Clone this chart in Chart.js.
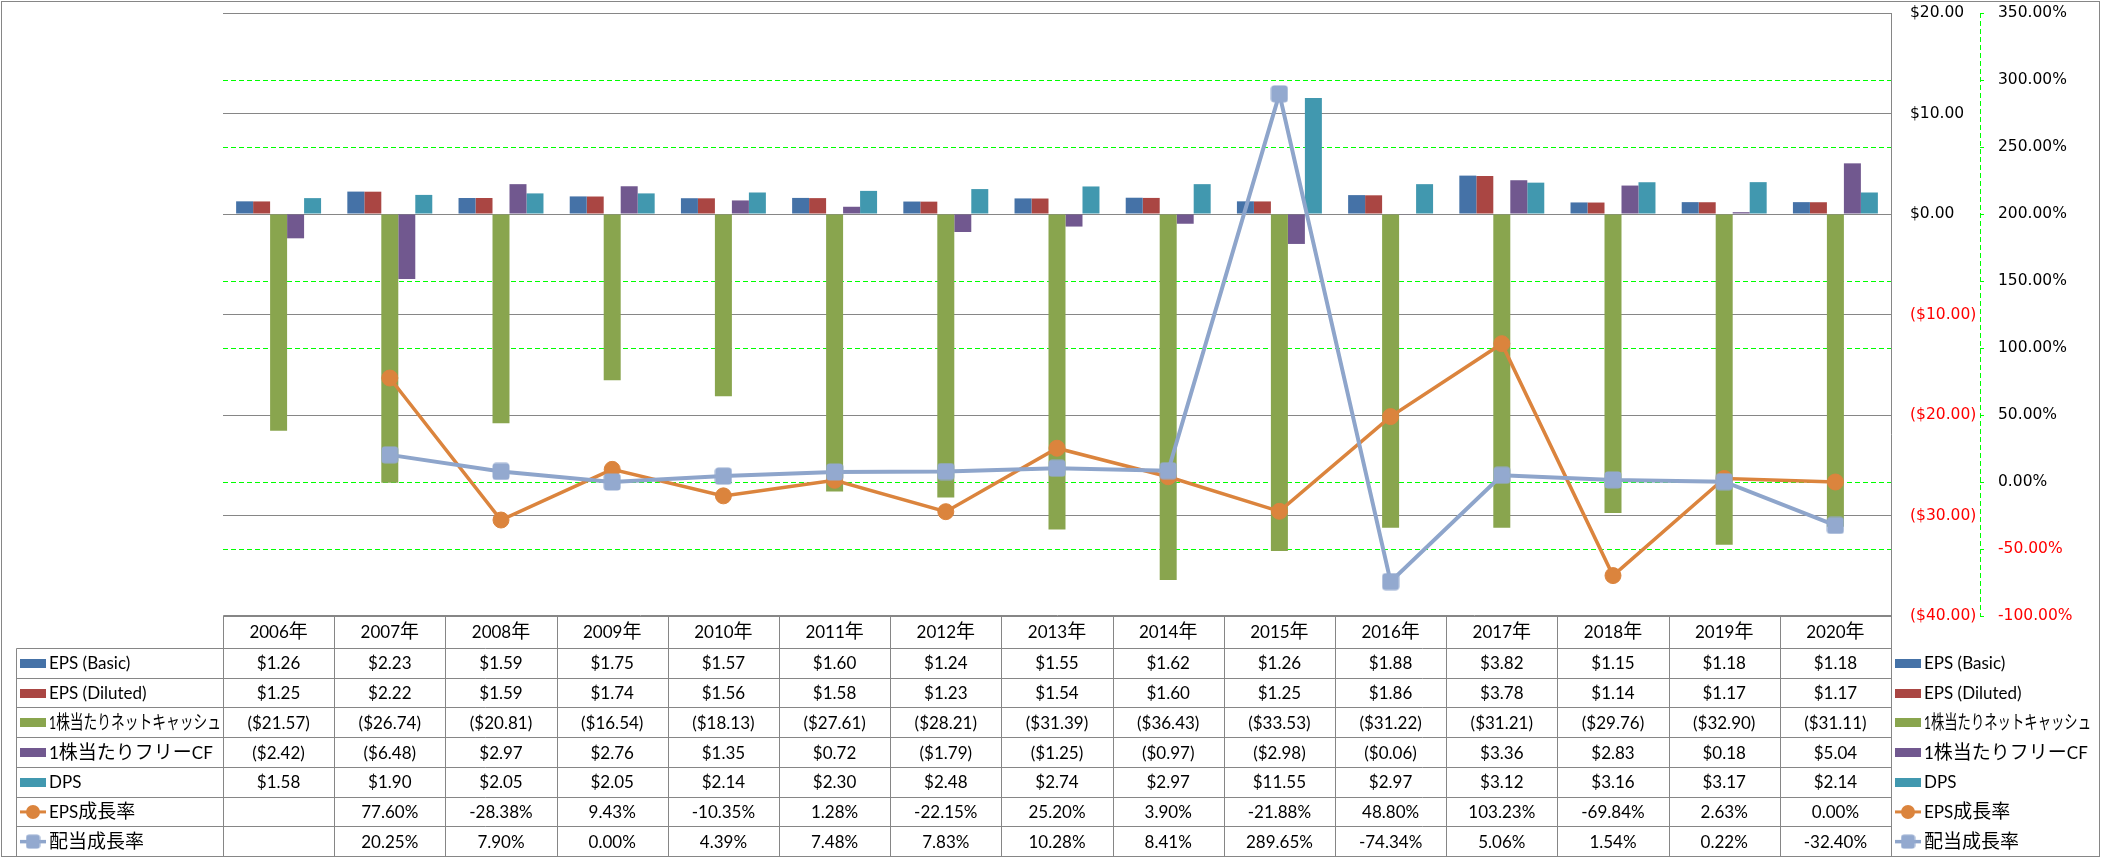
<!DOCTYPE html>
<html>
<head>
<meta charset="utf-8">
<script src="https://cdn.jsdelivr.net/npm/chart.js@4.4.1/dist/chart.umd.min.js"></script>
<style>
  html, body { margin: 0; padding: 0; background: #ffffff; }
  canvas { display: block; }
</style>
</head>
<body>
<canvas id="c" width="2101" height="858"></canvas>
<script>
// ---- data ----
const years = ['2006年','2007年','2008年','2009年','2010年','2011年','2012年','2013年','2014年','2015年','2016年','2017年','2018年','2019年','2020年'];
const epsBasic   = [1.26, 2.23, 1.59, 1.75, 1.57, 1.60, 1.24, 1.55, 1.62, 1.26, 1.88, 3.82, 1.15, 1.18, 1.18];
const epsDiluted = [1.25, 2.22, 1.59, 1.74, 1.56, 1.58, 1.23, 1.54, 1.60, 1.25, 1.86, 3.78, 1.14, 1.17, 1.17];
const netCashPS  = [-21.57, -26.74, -20.81, -16.54, -18.13, -27.61, -28.21, -31.39, -36.43, -33.53, -31.22, -31.21, -29.76, -32.90, -31.11];
const fcfPS      = [-2.42, -6.48, 2.97, 2.76, 1.35, 0.72, -1.79, -1.25, -0.97, -2.98, -0.06, 3.36, 2.83, 0.18, 5.04];
const dps        = [1.58, 1.90, 2.05, 2.05, 2.14, 2.30, 2.48, 2.74, 2.97, 11.55, 2.97, 3.12, 3.16, 3.17, 2.14];
const epsGrowth  = [null, 77.60, -28.38, 9.43, -10.35, 1.28, -22.15, 25.20, 3.90, -21.88, 48.80, 103.23, -69.84, 2.63, 0.00];
const divGrowth  = [null, 20.25, 7.90, 0.00, 4.39, 7.48, 7.83, 10.28, 8.41, 289.65, -74.34, 5.06, 1.54, 0.22, -32.40];

const seriesLabels = ['EPS (Basic)', 'EPS (Diluted)', '1株当たりネットキャッシュ', '1株当たりフリーCF', 'DPS', 'EPS成長率', '配当成長率'];
const dollarAxis = { min: -40, max: 20, step: 10 };
const pctAxis = { min: -100, max: 350, step: 50 };

// ---- styles ----
const colors = ['#4572A7', '#AA4643', '#89A54E', '#71588F', '#4198AF', '#DB843D', '#8EA5CB'];
const GRID = '#868686';
const GREEN = '#00FF00';

function fmtUSD(v) {
  if (v === null || v === undefined) return '';
  return v < 0 ? '($' + (-v).toFixed(2) + ')' : '$' + v.toFixed(2);
}
function fmtPct(v) {
  if (v === null || v === undefined) return '';
  return v.toFixed(2) + '%';
}

// rounded-square marker
function makeSquare(size, r, color) {
  const cv = document.createElement('canvas');
  cv.width = size; cv.height = size;
  const c = cv.getContext('2d');
  c.fillStyle = color;
  c.beginPath();
  c.roundRect(0.5, 0.5, size - 1, size - 1, r);
  c.fill();
  return cv;
}
const squareMarker = makeSquare(18, 3.5, '#93A9CF');
const squareLegend = makeSquare(15, 3, '#93A9CF');

const LATIN_FONT = '17px Lato, "Noto Sans", sans-serif';
const CJK_FONT = '19px "Noto Sans CJK JP", sans-serif';
const CJK_RE = /[\u3040-\u30ff\u3400-\u9fff\uff00-\uffef]+/g;

function splitRuns(str) {
  const runs = [];
  let last = 0, m;
  CJK_RE.lastIndex = 0;
  while ((m = CJK_RE.exec(str)) !== null) {
    if (m.index > last) runs.push({ t: str.slice(last, m.index), cjk: false });
    runs.push({ t: m[0], cjk: true });
    last = m.index + m[0].length;
  }
  if (last < str.length) runs.push({ t: str.slice(last), cjk: false });
  return runs;
}

function drawMixed(ctx, str, x, cy, align, maxW) {
  const runs = splitRuns(str);
  let total = 0;
  runs.forEach(r => {
    ctx.font = r.cjk ? CJK_FONT : LATIN_FONT;
    r.w = ctx.measureText(r.t).width;
    total += r.w;
  });
  let scale = 1;
  if (maxW && total > maxW) scale = maxW / total;
  const w = total * scale;
  let sx = x;
  if (align === 'center') sx = x - w / 2;
  else if (align === 'right') sx = x - w;
  ctx.save();
  ctx.translate(sx, cy + 6);
  ctx.scale(scale, 1);
  ctx.textAlign = 'left';
  ctx.textBaseline = 'alphabetic';
  ctx.fillStyle = '#000000';
  let px = 0;
  runs.forEach(r => {
    ctx.font = r.cjk ? CJK_FONT : LATIN_FONT;
    ctx.fillText(r.t, px, 0);
    px += r.w;
  });
  ctx.restore();
}

function drawKey(ctx, idx, x0, cy) {
  const col = colors[idx];
  ctx.save();
  if (idx < 5) {
    ctx.fillStyle = col;
    ctx.fillRect(x0, Math.round(cy - 4.5), 26, 9);
  } else if (idx === 5) {
    ctx.strokeStyle = col;
    ctx.lineWidth = 3;
    ctx.beginPath(); ctx.moveTo(x0, cy); ctx.lineTo(x0 + 26, cy); ctx.stroke();
    ctx.fillStyle = col;
    ctx.beginPath(); ctx.arc(x0 + 13, cy, 7, 0, Math.PI * 2); ctx.fill();
  } else {
    ctx.strokeStyle = col;
    ctx.lineWidth = 3.5;
    ctx.beginPath(); ctx.moveTo(x0, cy); ctx.lineTo(x0 + 26, cy); ctx.stroke();
    ctx.drawImage(squareLegend, x0 + 13 - 7.5, cy - 7.5);
  }
  ctx.restore();
}

const tableRows = [
  { data: epsBasic, fmt: fmtUSD },
  { data: epsDiluted, fmt: fmtUSD },
  { data: netCashPS, fmt: fmtUSD },
  { data: fcfPS, fmt: fmtUSD },
  { data: dps, fmt: fmtUSD },
  { data: epsGrowth, fmt: fmtPct },
  { data: divGrowth, fmt: fmtPct }
];

const px = v => Math.round(v) + 0.5;

const framePlugin = {
  id: 'frame',
  afterDraw(chart) {
    const ctx = chart.ctx;
    const area = chart.chartArea;
    const xs = chart.scales.x;
    const y1 = chart.scales.y1;
    const n = years.length;
    const colW = (area.right - area.left) / n;
    const top = Math.round(area.bottom) - 0.5;
    const headerBottom = top + 33;
    const bottom = chart.height - 1.5;
    const rowH = (bottom - headerBottom) / tableRows.length;
    const legendLeft = 16.5;

    ctx.save();
    // secondary axis line (green dashed)
    ctx.strokeStyle = GREEN;
    ctx.lineWidth = 1;
    ctx.setLineDash([5, 3]);
    ctx.beginPath();
    ctx.moveTo(px(y1.left), area.top);
    ctx.lineTo(px(y1.left), area.bottom);
    ctx.stroke();
    ctx.setLineDash([]);

    // table grid
    ctx.strokeStyle = GRID;
    ctx.lineWidth = 1;
    ctx.beginPath();
    ctx.moveTo(px(area.left), top); ctx.lineTo(px(area.right), top);
    for (let r = 0; r <= tableRows.length; r++) {
      const yy = px(headerBottom + r * rowH - 0.5);
      ctx.moveTo(legendLeft, yy); ctx.lineTo(px(area.right), yy);
    }
    ctx.moveTo(legendLeft, px(headerBottom - 0.5)); ctx.lineTo(legendLeft, bottom);
    for (let i = 0; i <= n; i++) {
      const xx = px(area.left + i * colW);
      ctx.moveTo(xx, top); ctx.lineTo(xx, bottom);
    }
    ctx.moveTo(px(area.right), area.top); ctx.lineTo(px(area.right), bottom);
    ctx.stroke();

    // outer chart border
    ctx.strokeRect(1.5, 1.5, chart.width - 3, chart.height - 3);

    // header labels
    for (let i = 0; i < n; i++) {
      const cx = xs.getPixelForValue(i);
      drawMixed(ctx, years[i], cx, top + 16.5, 'center');
    }
    // rows
    tableRows.forEach((row, r) => {
      const cy = headerBottom + r * rowH + rowH / 2;
      for (let i = 0; i < n; i++) {
        const t = row.fmt(row.data[i]);
        if (t) drawMixed(ctx, t, xs.getPixelForValue(i), cy, 'center');
      }
      drawKey(ctx, r, legendLeft + 3.5, cy);
      drawMixed(ctx, seriesLabels[r], legendLeft + 32.5, cy, 'left', 172);
      drawKey(ctx, r, area.right + 4, cy);
      drawMixed(ctx, seriesLabels[r], area.right + 33, cy, 'left', 167);
    });
    ctx.restore();
  }
};

const barDatasets = [epsBasic, epsDiluted, netCashPS, fcfPS, dps].map((d, i) => ({
  type: 'bar',
  label: seriesLabels[i],
  data: d,
  backgroundColor: colors[i],
  borderWidth: 0,
  yAxisID: 'y',
  order: 2,
  categoryPercentage: 0.764,
  barPercentage: 1.0
}));

const lineDatasets = [
  {
    type: 'line',
    label: seriesLabels[5],
    data: epsGrowth,
    borderColor: colors[5],
    backgroundColor: colors[5],
    borderWidth: 3.5,
    pointStyle: 'circle',
    pointRadius: 8,
    pointBorderWidth: 1,
    pointBackgroundColor: colors[5],
    pointBorderColor: colors[5],
    yAxisID: 'y1',
    order: 1,
    tension: 0,
    fill: false
  },
  {
    type: 'line',
    label: seriesLabels[6],
    data: divGrowth,
    borderColor: colors[6],
    backgroundColor: '#93A9CF',
    borderWidth: 4,
    pointStyle: squareMarker,
    pointRadius: 9,
    yAxisID: 'y1',
    order: 0,
    tension: 0,
    fill: false
  }
];

const fixAxis = w => s => { s.width = w; s.paddingTop = 0; s.paddingBottom = 0; };

new Chart(document.getElementById('c'), {
  type: 'bar',
  data: { labels: years, datasets: barDatasets.concat(lineDatasets) },
  plugins: [framePlugin],
  options: {
    responsive: false,
    animation: false,
    events: [],
    layout: { padding: { left: 223, top: 13, right: 0, bottom: 242 } },
    plugins: { legend: { display: false }, tooltip: { enabled: false }, title: { display: false } },
    scales: {
      x: { display: false, offset: true },
      y: {
        position: 'right',
        min: dollarAxis.min, max: dollarAxis.max,
        afterFit: fixAxis(89),
        ticks: {
          stepSize: dollarAxis.step,
          padding: 19,
          font: { family: '"DejaVu Sans"', size: 15.5 },
          color: c => (c.tick.value < 0 ? '#FF0000' : '#000000'),
          callback: v => fmtUSD(v)
        },
        grid: { color: GRID, lineWidth: 1, drawTicks: false },
        border: { display: false }
      },
      y1: {
        position: 'right',
        min: pctAxis.min, max: pctAxis.max,
        afterFit: fixAxis(121),
        ticks: {
          stepSize: pctAxis.step,
          padding: 14,
          font: { family: '"DejaVu Sans"', size: 15.5 },
          color: c => (c.tick.value < 0 ? '#FF0000' : '#000000'),
          callback: v => fmtPct(v)
        },
        grid: {
          color: c => ([350, 200, 50, -100].includes(c.tick.value) ? 'rgba(0,0,0,0)' : GREEN),
          lineWidth: 1,
          drawTicks: true,
          tickLength: 4,
          tickColor: GREEN,
          tickWidth: 1
        },
        border: { display: false, dash: [5, 3] }
      }
    }
  }
});
</script>
</body>
</html>
